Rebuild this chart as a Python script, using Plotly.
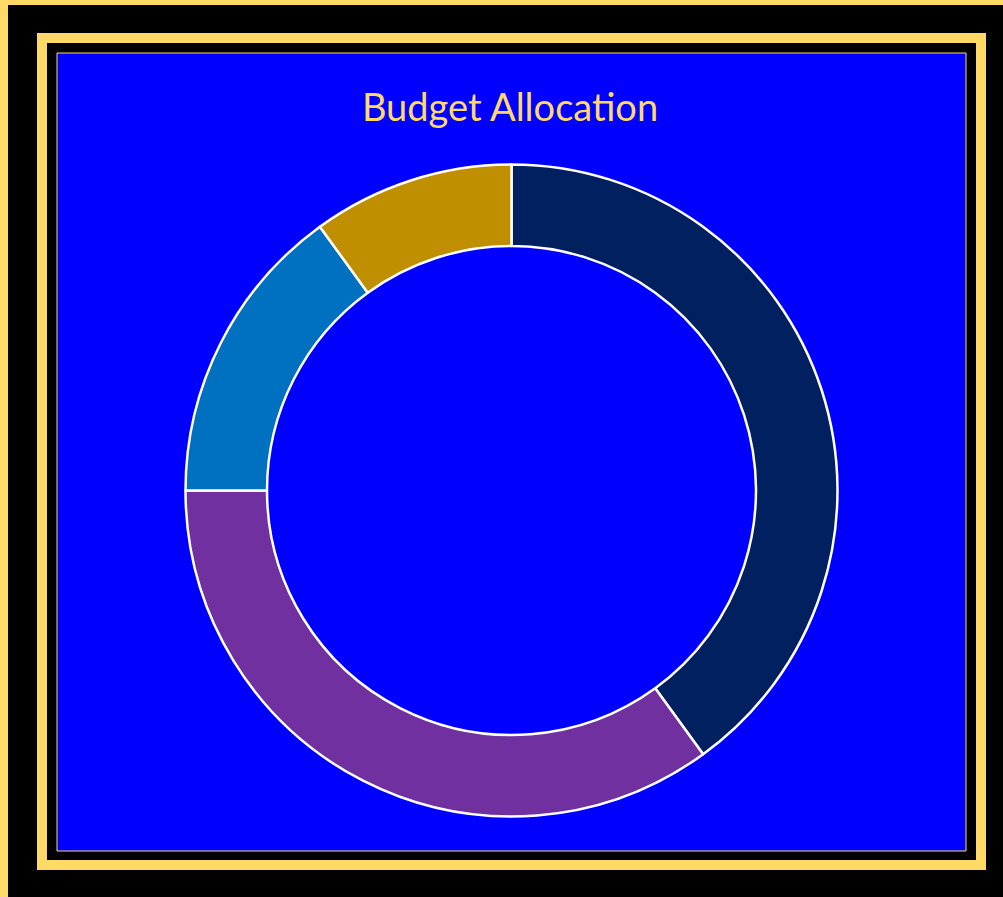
import plotly.graph_objects as go

categories = ["Operations", "Marketing", "Research", "Administration"]
values = [40, 35, 15, 10]
colors = ["#002060", "#7030A0", "#0070C0", "#BF8F00"]
title_text = "Budget Allocation"

W, H = 1003, 897
GOLD = "#FFD966"
BLUE = "#0000FF"

def px(x):
    return x / W

def py(y):
    return 1 - y / H

cx, cy, r = 511.5, 490.5, 326

fig = go.Figure(go.Pie(
    labels=categories,
    values=values,
    marker=dict(colors=colors, line=dict(color="white", width=2.5)),
    hole=0.75,
    sort=False,
    direction="clockwise",
    rotation=0,
    textinfo="none",
    showlegend=False,
    domain=dict(x=[px(cx - r), px(cx + r)], y=[py(cy + r), py(cy - r)]),
))

def frect(x0, y0, x1, y1, fill, line_color=None, line_width=0):
    return dict(type="rect", xref="paper", yref="paper",
                x0=px(x0), x1=px(x1), y0=py(y1), y1=py(y0),
                fillcolor=fill,
                line=dict(color=line_color or fill, width=line_width),
                layer="below")

shapes = [
    frect(0, 0, 8, H, GOLD),          # outer gold edge, left
    frect(0, 0, W, 5, GOLD),          # outer gold edge, top
    frect(37, 33, 986, 870, GOLD),    # gold band outer
    frect(47, 43, 976, 860, "black"), # black gap
    frect(57, 53, 966, 851, BLUE, GOLD, 1),  # blue panel
]

fig.update_layout(
    width=W, height=H,
    margin=dict(l=0, r=0, t=0, b=0),
    paper_bgcolor="black",
    plot_bgcolor="black",
    shapes=shapes,
    title=dict(text=title_text, x=px(510), xanchor="center", y=py(108), yanchor="middle",
               xref="paper", yref="paper",
               font=dict(family="Lato, Open Sans, sans-serif", size=38, color=GOLD)),
)

fig.write_html("out.html")
